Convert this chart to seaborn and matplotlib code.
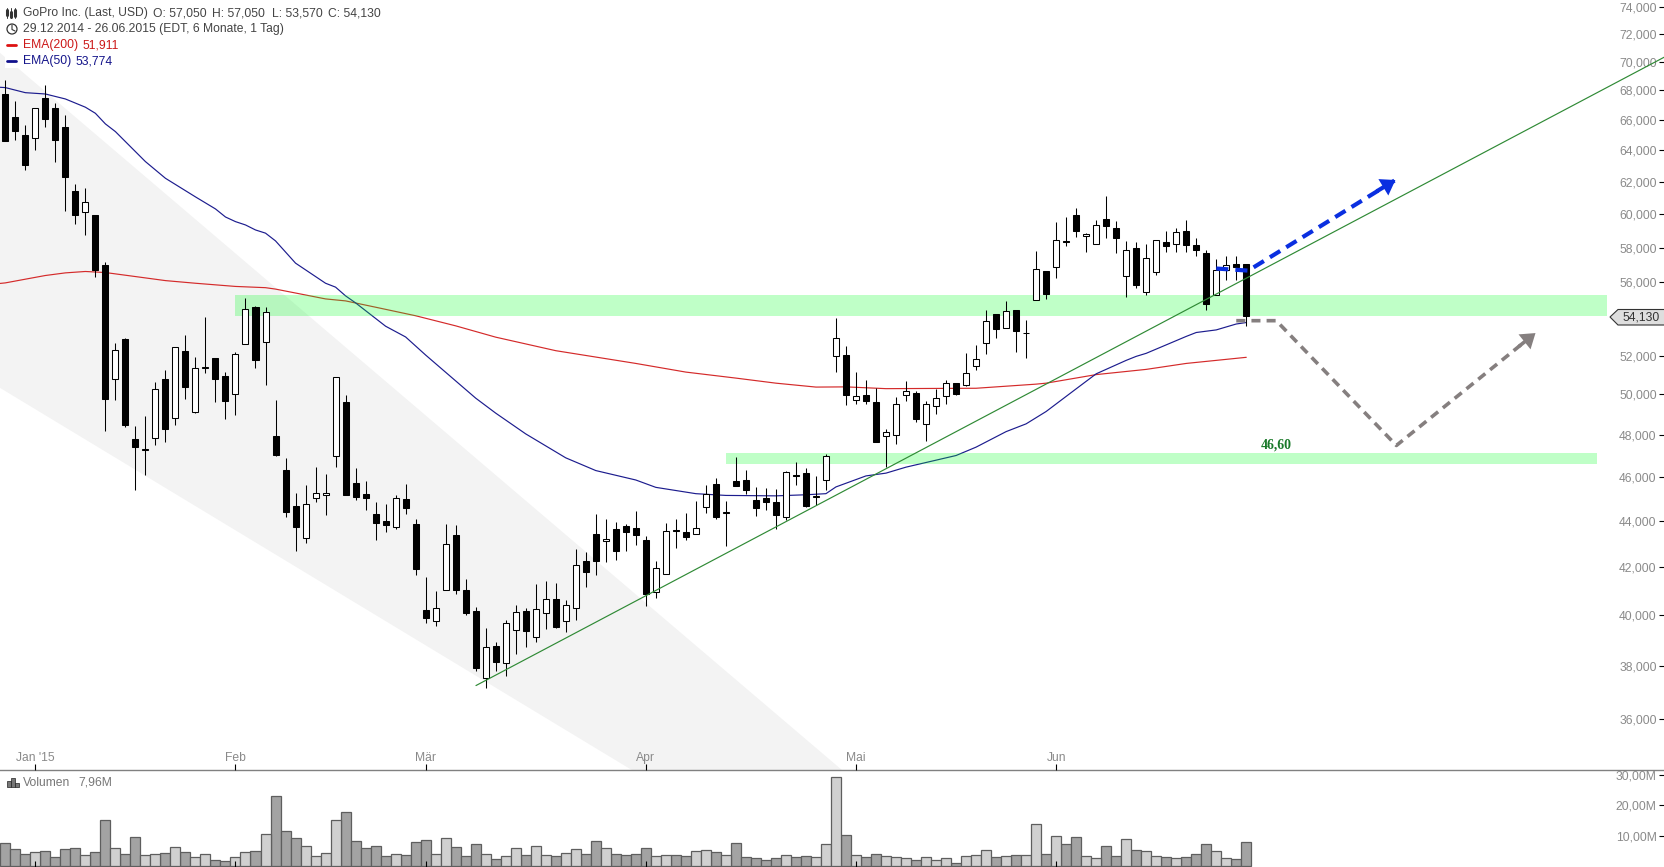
import numpy as np
import pandas as pd
import seaborn as sns
import matplotlib.pyplot as plt
from matplotlib.lines import Line2D
from matplotlib.patches import Circle, Polygon, Rectangle

# daily candles, 29.12.2014 - 26.06.2015
opens = [67.76, 66.20, 65.01, 64.80, 67.49, 66.81, 65.54, 61.43, 60.12, 59.95,
         57.00, 50.78, 52.89, 47.80, 47.25, 47.83, 50.79, 48.81, 52.25, 49.14,
         51.34, 51.88, 50.95, 50.00, 52.61, 54.63, 52.71, 47.94, 46.32, 44.66,
         43.23, 45.02, 45.16, 46.97, 49.62, 45.72, 45.22, 44.31, 43.99, 43.73,
         44.99, 43.85, 40.20, 39.75, 41.02, 43.38, 41.03, 40.16, 37.52, 38.77,
         38.09, 39.39, 40.16, 39.12, 40.07, 40.65, 39.75, 40.27, 42.23, 43.41,
         43.10, 43.62, 43.76, 43.67, 43.16, 40.94, 41.68, 43.57, 43.49, 43.40,
         44.61, 45.66, 44.34, 45.79, 45.85, 44.93, 45.03, 44.84, 44.15, 46.06,
         46.17, 45.07, 45.83, 51.96, 52.03, 49.71, 49.97, 49.62, 47.92, 47.97,
         49.95, 50.07, 48.52, 49.41, 49.91, 50.57, 50.50, 51.43, 52.66, 54.25,
         53.50, 54.46, 53.18, 55.00, 56.66, 56.87, 58.38, 59.95, 58.68, 58.20,
         59.71, 59.18, 56.35, 57.97, 55.43, 56.58, 58.34, 58.20, 59.00, 58.16,
         57.69, 55.31, 56.70, 57.06, 57.05]
closes = [64.64, 65.30, 63.09, 66.79, 66.09, 64.70, 62.32, 59.97, 60.73, 56.68,
          49.79, 52.28, 48.48, 47.43, 47.29, 50.26, 48.30, 52.44, 50.35, 51.35,
          51.38, 50.76, 49.69, 52.07, 54.50, 51.78, 54.33, 47.04, 44.41, 43.73,
          44.75, 45.25, 45.25, 50.88, 45.18, 45.09, 45.00, 43.91, 43.83, 45.02,
          44.59, 41.91, 39.89, 40.27, 42.97, 41.03, 40.09, 37.92, 38.72, 38.15,
          39.67, 40.11, 39.34, 40.23, 40.65, 39.50, 40.40, 42.05, 41.79, 42.26,
          43.19, 42.65, 43.52, 43.35, 40.84, 41.93, 43.54, 43.53, 43.29, 43.67,
          45.20, 44.18, 44.41, 45.59, 45.41, 44.59, 44.82, 44.27, 46.21, 46.02,
          44.67, 45.13, 46.97, 52.93, 49.99, 49.91, 49.69, 47.67, 48.12, 49.51,
          50.16, 48.79, 49.51, 49.81, 50.57, 50.04, 51.09, 51.80, 53.84, 53.44,
          54.39, 53.31, 53.22, 56.76, 55.37, 58.44, 58.34, 58.96, 58.80, 59.34,
          59.31, 58.60, 57.85, 55.86, 57.39, 58.44, 58.10, 58.92, 58.18, 57.88,
          54.81, 56.70, 56.97, 56.85, 54.13]
highs = [68.73, 67.29, 65.65, 66.79, 68.38, 67.13, 66.34, 61.86, 61.62, 59.95,
         57.18, 52.66, 52.93, 48.43, 48.93, 50.62, 51.26, 52.44, 53.11, 51.91,
         54.06, 51.88, 51.14, 52.19, 55.11, 54.69, 54.61, 49.71, 46.88, 45.25,
         45.61, 46.47, 46.12, 50.88, 49.95, 46.42, 45.81, 44.84, 44.76, 45.16,
         45.65, 44.08, 41.55, 40.99, 43.85, 43.80, 41.49, 40.33, 39.48, 38.92,
         39.80, 40.40, 40.27, 41.28, 41.39, 41.31, 40.60, 42.77, 42.62, 44.29,
         44.06, 43.94, 43.84, 44.43, 43.33, 42.23, 43.89, 44.07, 44.35, 44.88,
         45.63, 45.93, 44.88, 46.93, 46.32, 45.52, 45.48, 45.43, 46.26, 46.70,
         46.40, 46.04, 47.07, 54.02, 52.51, 51.14, 50.74, 50.31, 48.27, 49.86,
         50.67, 50.16, 49.66, 50.26, 50.73, 50.57, 52.12, 52.55, 54.45, 54.25,
         54.97, 54.46, 53.89, 57.81, 56.66, 59.53, 59.83, 60.38, 58.88, 59.65,
         61.12, 59.59, 58.40, 58.34, 58.22, 58.44, 59.00, 59.16, 59.65, 58.56,
         57.87, 57.35, 57.50, 57.50, 57.05]
lows = [64.64, 64.68, 62.75, 64.03, 65.56, 63.28, 60.22, 59.41, 58.76, 56.33,
        48.20, 49.72, 48.40, 45.37, 46.10, 47.52, 47.67, 48.45, 49.79, 49.06,
        51.09, 49.64, 48.79, 48.99, 52.61, 51.33, 50.50, 47.00, 44.18, 42.68,
        43.04, 44.82, 44.26, 46.48, 45.18, 44.91, 44.49, 43.13, 43.52, 43.65,
        44.32, 41.66, 39.69, 39.57, 41.02, 40.84, 40.01, 37.80, 37.14, 37.81,
        37.62, 38.43, 38.71, 38.90, 39.42, 39.48, 39.30, 39.80, 41.13, 41.66,
        42.21, 42.30, 42.65, 42.91, 40.38, 40.71, 41.68, 42.78, 43.13, 43.40,
        44.36, 44.09, 42.87, 45.59, 45.20, 44.21, 44.50, 43.61, 44.05, 45.64,
        44.60, 44.72, 45.37, 51.13, 49.44, 49.49, 49.54, 47.67, 46.48, 47.57,
        49.69, 48.64, 47.71, 49.04, 49.54, 49.98, 50.40, 51.23, 52.10, 52.91,
        53.50, 52.21, 51.89, 55.00, 55.04, 56.27, 58.12, 58.66, 57.77, 58.20,
        58.60, 57.71, 55.17, 55.70, 55.31, 56.44, 57.77, 57.77, 57.77, 57.54,
        54.48, 55.31, 56.16, 56.16, 53.57]
# volume in millions
volume = [7.39, 5.72, 4.06, 4.72, 5.06, 3.06, 5.72, 6.06, 3.72, 4.72,
          15.06, 6.06, 4.06, 9.39, 3.72, 4.06, 4.39, 6.39, 4.72, 3.06,
          4.06, 2.06, 1.72, 3.06, 4.72, 5.06, 10.39, 23.06, 11.39, 9.06,
          6.72, 3.39, 4.39, 15.06, 17.72, 8.06, 6.06, 6.72, 3.39, 4.06,
          3.72, 7.72, 8.39, 4.06, 9.06, 6.39, 3.39, 7.06, 4.06, 2.39,
          3.39, 6.06, 3.72, 6.72, 3.72, 3.39, 4.39, 5.72, 4.06, 8.06,
          6.06, 4.06, 3.72, 4.06, 6.06, 3.39, 3.72, 3.72, 3.39, 5.06,
          5.39, 4.72, 3.72, 7.39, 3.06, 2.72, 2.06, 2.72, 3.72, 3.06,
          3.39, 3.06, 7.06, 29.06, 10.06, 3.72, 3.06, 4.06, 3.39, 3.06,
          2.72, 2.06, 3.06, 2.06, 2.72, 1.06, 3.39, 3.72, 5.39, 3.06,
          3.39, 3.72, 3.72, 13.72, 4.06, 9.72, 7.06, 9.39, 3.39, 2.72,
          6.72, 3.39, 8.72, 5.39, 5.06, 3.39, 3.06, 2.72, 3.06, 4.06,
          7.06, 5.06, 2.72, 2.39, 7.96]

ema50_bars = [-0.53, 0, 2, 4, 6, 8, 9, 10, 11, 14, 16, 19, 21, 22, 23, 24, 25, 26, 27, 29, 32,
              33, 34, 35, 38, 40, 42, 47, 49, 52, 56, 59, 63, 65, 69, 72, 77, 80, 82,
              83, 86, 88, 90, 95, 97, 100, 102, 104, 107, 109, 112, 113, 114, 118, 119,
              121, 123, 124]
ema50 = [68.22, 68.20, 67.85, 67.76, 67.42, 66.86, 66.45, 65.74, 65.23, 63.28, 62.22, 61.06, 60.32,
         59.83, 59.55, 59.35, 59.05, 58.86, 58.40, 57.10, 55.95, 55.73, 55.24, 54.85, 53.57,
         52.99, 52.03, 49.81, 49.06, 48.04, 46.89, 46.29, 45.85, 45.51, 45.22, 45.14, 45.12,
         45.17, 45.22, 45.53, 46.04, 46.17, 46.45, 47.00, 47.40, 48.15, 48.53, 49.14, 50.28,
         51.05, 51.75, 51.96, 52.12, 53.02, 53.23, 53.37, 53.69, 53.77]
ema200_bars = [-0.53, 0, 2, 4, 6, 8, 10, 13, 16, 19, 23, 26, 27, 30, 32, 34, 37, 41, 45, 49, 55,
               63, 68, 73, 77, 81, 84, 88, 97, 103, 104, 109, 114, 118, 124]
ema200 = [55.94, 55.97, 56.18, 56.39, 56.54, 56.62, 56.56, 56.33, 56.10, 55.95, 55.77, 55.70, 55.62,
          55.29, 55.07, 54.96, 54.61, 54.14, 53.59, 52.98, 52.26, 51.59, 51.14, 50.83, 50.57,
          50.37, 50.38, 50.29, 50.31, 50.52, 50.57, 51.01, 51.28, 51.59, 51.91]

# drawn annotations: bar numbers and prices
trend_bars = [47.03, 165.84]
trend_prices = [37.24, 70.36]
channel_bars = [-0.53, 62.6, 83.6, -0.53]
channel_prices = [50.33, 34.19, 34.19, 70.64]
zone_upper = (23.0, 160.0, 54.13, 55.31)
zone_lower = (72.0, 159.0, 46.60, 47.10)
blue_bars = [121.0, 124.2, 138.9]
blue_prices = [56.79, 56.67, 62.11]
gray_bars = [123.0, 127.0, 139.0, 152.9]
gray_prices = [53.87, 53.87, 47.48, 53.20]

price_ticks = [36, 38, 40, 42, 44, 46, 48, 50, 52, 54, 56, 58, 60, 62, 64, 66, 68, 70, 72, 74]
price_labels = ['36,000', '38,000', '40,000', '42,000', '44,000', '46,000', '48,000', '50,000',
                '52,000', '', '56,000', '58,000', '60,000', '62,000', '64,000', '66,000',
                '68,000', '70,000', '72,000', '74,000']
month_bars = [3, 23, 42, 64, 85, 105]
month_labels = ["Jan '15", 'Feb', 'Mär', 'Apr', 'Mai', 'Jun']
volume_ticks = [10, 20, 30]
volume_labels = ['10,00M', '20,00M', '30,00M']

W, H = 1665, 867
sns.set_theme(style='white')
plt.rcParams['font.family'] = ['Liberation Sans', 'DejaVu Sans']
GREY = '#8a8a8a'
DARK = '#444444'
TEXT_SIZE = 8.7

fig = plt.figure(figsize=(W / 100, H / 100), dpi=100)
ax = fig.add_axes([0, 97 / H, 1, 770 / H])
vax = fig.add_axes([0, 0, 1, 97 / H])
ax.set_axisbelow(False)
vax.set_axisbelow(False)


def fx(x):
    return x / W


def fy(y):
    return 1 - y / H


def arrow_tip(x, y, color, back, lw):
    # stem that joins the last dash to the head, then the head itself
    ax.annotate('', xy=(x, y), xytext=back, textcoords='offset points', zorder=7,
                arrowprops=dict(arrowstyle='-', color=color, lw=lw, shrinkA=0, shrinkB=6))
    ax.annotate('', xy=(x, y), xytext=(back[0] * 0.7, back[1] * 0.7), textcoords='offset points', zorder=7,
                arrowprops=dict(arrowstyle='-|>,head_length=0.44,head_width=0.3', mutation_scale=23,
                                color=color, shrinkA=0, shrinkB=0, lw=0))


bars = np.arange(len(opens))
o, c, h, l = map(np.array, (opens, closes, highs, lows))
up = c > o

ax.set_yscale('log')
ax.fill(channel_bars, channel_prices, color='#f3f3f3', lw=0, zorder=1)
sns.lineplot(x=ema200_bars, y=ema200, color='#d42a2a', lw=0.85, ax=ax, zorder=2)
sns.lineplot(x=ema50_bars, y=ema50, color='#1c1c8e', lw=0.85, ax=ax, zorder=2)

for x0, x1, p0, p1 in (zone_upper, zone_lower):
    ax.fill([x0, x1, x1, x0], [p0, p0, p1, p1], color='#00ff20', alpha=0.25, lw=0, zorder=3)

ax.vlines(bars, l, h, color='black', lw=0.75, zorder=4)
ax.bar(bars, np.abs(c - o), bottom=np.minimum(o, c), width=0.6,
       color=np.where(up, 'white', 'black'), edgecolor='black', lw=0.75, zorder=5)

ax.plot(trend_bars, trend_prices, color='#2f8a35', lw=0.85, zorder=6)

ax.plot(blue_bars, blue_prices, color='#0a2fe0', lw=3.0, ls=(0, (2.9, 1.7)), zorder=7)
arrow_tip(blue_bars[-1], blue_prices[-1], '#0a2fe0', (-12.9, -7.8), 3.0)
ax.plot(gray_bars, gray_prices, color='#857f7f', lw=2.6, ls=(0, (2.5, 1.7)), zorder=7)
arrow_tip(gray_bars[-1], gray_prices[-1], '#857f7f', (-11.7, -9.4), 2.6)

ax.set_xlim(-0.53, 165.84)
ax.set_ylim(34.19, 74.52)
ax.minorticks_off()
ax.yaxis.tick_right()
ax.set_yticks(price_ticks, price_labels)
ax.set_xticks(month_bars, month_labels)
ax.set_xlabel('')
ax.set_ylabel('')
ax.tick_params(axis='y', which='major', direction='in', length=4, width=0.8, color='black',
               pad=-6, labelcolor=GREY, labelsize=TEXT_SIZE, right=True)
ax.tick_params(axis='x', direction='in', length=4, width=0.8, color='black',
               pad=-13, labelcolor=GREY, labelsize=TEXT_SIZE, bottom=True)
for lab in ax.get_yticklabels():
    lab.set_ha('right')
for side in ('top', 'left', 'right'):
    ax.spines[side].set_visible(False)
ax.spines['bottom'].set_color('#808080')
ax.spines['bottom'].set_linewidth(1.0)

# white plate behind the header texts
ax.add_patch(Rectangle((fx(5), 1 - 68 / 770), 395 / W, 68 / 770, transform=ax.transAxes,
                       color='white', lw=0, zorder=8))

df = pd.DataFrame({'bar': bars, 'vol': volume, 'up': up})
sns.barplot(data=df, x='bar', y='vol', hue='up', palette={True: '#d0d0d0', False: '#a3a3a3'},
            native_scale=True, dodge=False, width=1, saturation=1, edgecolor='#5e5e5e',
            linewidth=0.9, legend=False, ax=vax)
vax.set_xlim(-0.53, 165.84)
vax.set_ylim(-0.33, 31.48)
vax.yaxis.tick_right()
vax.set_yticks(volume_ticks, volume_labels)
vax.set_xticks(month_bars, [''] * len(month_bars))
vax.set_xlabel('')
vax.set_ylabel('')
vax.tick_params(axis='y', direction='in', length=4, width=0.8, color='black', pad=-6,
                labelcolor=GREY, labelsize=TEXT_SIZE, right=True)
vax.tick_params(axis='x', direction='in', length=4, width=0.8, color='black', bottom=True)
for lab in vax.get_yticklabels():
    lab.set_ha('right')
for side in vax.spines:
    vax.spines[side].set_visible(False)
vax.patch.set_alpha(0)


def label(x, y, s, color=DARK, size=TEXT_SIZE, **kw):
    fig.text(fx(x), fy(y), s, color=color, fontsize=size, va='center', zorder=20, **kw)


label(23.3, 13, 'GoPro Inc. (Last, USD)')
label(153.3, 13, 'O: 57,050')
label(212.3, 13, 'H: 57,050')
label(271.7, 13, 'L: 53,570')
label(328.3, 13, 'C: 54,130')
label(23.3, 29, '29.12.2014 - 26.06.2015 (EDT, 6 Monate, 1 Tag)')
label(23.3, 45, 'EMA(200)', color='#cc1818')
label(82.5, 45, '51,911', color='#cc1818')
label(23.3, 61, 'EMA(50)', color='#14148a')
label(75.5, 61, '53,774', color='#14148a')
label(23, 782.5, 'Volumen', color='#777777')
label(78, 782.5, '7,96M', color='#777777')
label(1641, 317.5, '54,130', color='#333333', ha='center')
fig.text(fx(1276), fy(445.5), '46,60', color='#1a7a2a', fontsize=10, family='Liberation Serif',
         weight='bold', ha='center', va='center', zorder=20)

# tag of the last price
fig.add_artist(Polygon([(fx(1610), fy(317)), (fx(1618), fy(309.5)), (fx(1665), fy(309.5)),
                        (fx(1665), fy(325)), (fx(1618), fy(325))], closed=True,
                       transform=fig.transFigure, facecolor='#dedede', edgecolor='#333333',
                       lw=0.8, zorder=15))

# small header icons
for x, y0, y1, b0, b1 in ((7.5, 8, 18, 10, 15), (11.5, 8, 18, 12, 17), (15.5, 8, 18, 10, 16)):
    fig.add_artist(Line2D([fx(x), fx(x)], [fy(y0), fy(y1)], color='#333333', lw=0.7, zorder=15))
    fig.add_artist(Line2D([fx(x), fx(x)], [fy(b0), fy(b1)], color='#333333', lw=2.2, zorder=15))
fig.add_artist(Line2D([fx(12), fx(12), fx(15)], [fy(25), fy(29.5), fy(31)], color='#333333',
                      lw=0.8, zorder=15))
clock = Circle((12, H - 29), 5, transform=None, fill=False, edgecolor='#333333', lw=0.9, zorder=15)
fig.add_artist(clock)
fig.add_artist(Line2D([fx(7.5), fx(16)], [fy(45), fy(45)], color='#dd1111', lw=2, zorder=15))
fig.add_artist(Line2D([fx(7.5), fx(16)], [fy(61), fy(61)], color='#10108c', lw=2, zorder=15))
for x0, x1, top in ((7, 11, 781), (11, 15, 778), (15, 19, 783)):
    fig.add_artist(Rectangle((fx(x0), fy(787)), (x1 - x0) / W, (787 - top) / H, transform=fig.transFigure,
                             facecolor='#777777', edgecolor='#222222', lw=0.5, zorder=15))

fig.savefig('out.png', dpi=100)
